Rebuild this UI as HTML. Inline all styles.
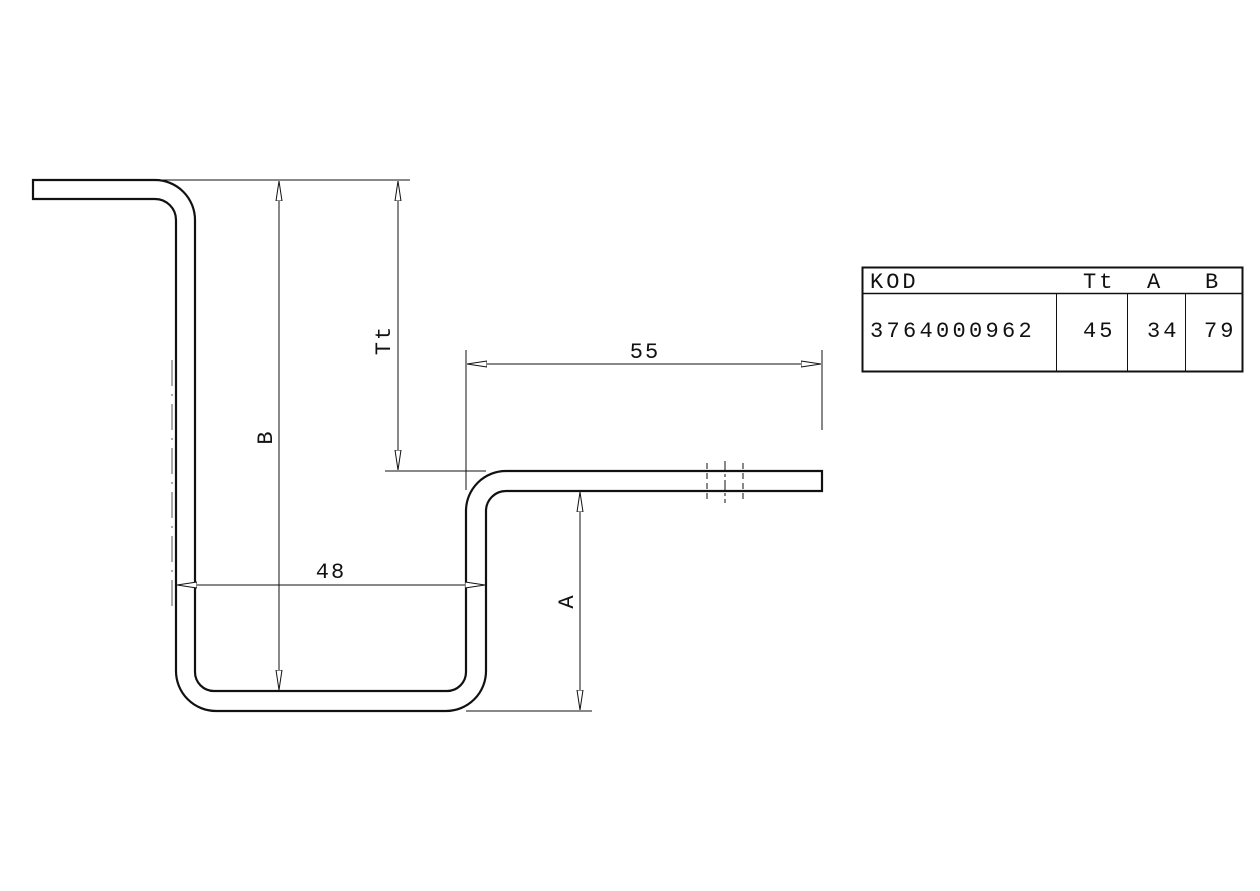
<!DOCTYPE html>
<html><head><meta charset="utf-8"><style>
html,body{margin:0;padding:0;background:#fff;}
svg{display:block}
text{font-family:"Liberation Mono",monospace;fill:#111}
</style></head><body>
<svg width="1260" height="891" viewBox="0 0 1260 891">
<defs>
<marker id="a" viewBox="0 0 20 8" refX="20" refY="4" markerWidth="20" markerHeight="8" markerUnits="userSpaceOnUse" orient="auto">
<path d="M0,1 L20,4 L0,7 Z" fill="#fff" stroke="#111" stroke-width="1"/>
</marker>
</defs>
<g fill="none" stroke="#111" stroke-width="2.2">
<path d="M33,180 L155,180 A40,40 0 0 1 195,220 L195,672 A19,19 0 0 0 214,691 L447,691 A19,19 0 0 0 466,672 L466,511 A40,40 0 0 1 506,471 L822,471 L822,491 L506,491 A20,20 0 0 0 486,511 L486,671 A40,40 0 0 1 446,711 L216,711 A40,40 0 0 1 176,671 L176,220 A21,21 0 0 0 155,199 L33,199 Z"/>
</g>
<g stroke="#111" stroke-width="1" fill="none">
<path d="M707,463 V499 M743,463 V499" stroke-dasharray="6,4"/>
<path d="M725,461 V503" stroke-dasharray="10,3,3,3"/>
<path d="M172,360 V610" stroke-dasharray="26,8,2,8" stroke="#555"/>
<path d="M155,180 H410"/>
<path d="M385,471 H486"/>
<path d="M466,711 H592"/>
<path d="M466,350 V490"/>
<path d="M822,350 V430"/>
<line x1="279" y1="437" x2="279" y2="181" marker-end="url(#a)"/>
<line x1="279" y1="437" x2="279" y2="690" marker-end="url(#a)"/>
<line x1="398" y1="330" x2="398" y2="181" marker-end="url(#a)"/>
<line x1="398" y1="330" x2="398" y2="470" marker-end="url(#a)"/>
<line x1="580" y1="600" x2="580" y2="492" marker-end="url(#a)"/>
<line x1="580" y1="600" x2="580" y2="710" marker-end="url(#a)"/>
<line x1="640" y1="364" x2="467" y2="364" marker-end="url(#a)"/>
<line x1="640" y1="364" x2="821" y2="364" marker-end="url(#a)"/>
<line x1="330" y1="585" x2="177" y2="585" marker-end="url(#a)"/>
<line x1="330" y1="585" x2="485" y2="585" marker-end="url(#a)"/>
</g>
<g font-size="22" letter-spacing="2">
<text x="645" y="358" text-anchor="middle">55</text>
<text x="331" y="578" text-anchor="middle">48</text>
<text transform="translate(272,437) rotate(-90)" text-anchor="middle">B</text>
<text transform="translate(390,340) rotate(-90)" text-anchor="middle">Tt</text>
<text transform="translate(573,601) rotate(-90)" text-anchor="middle">A</text>
</g>
<g stroke="#111" fill="none">
<rect x="862.5" y="267.5" width="380" height="104" stroke-width="2"/>
<path d="M862,293.5 H1242" stroke-width="1.5"/>
<path d="M1056.5,293 V372 M1127.5,293 V372 M1185.5,293 V372" stroke-width="1"/>
</g>
<g font-size="22" letter-spacing="3">
<text x="870" y="288">KOD</text>
<text x="1083" y="288">Tt</text>
<text x="1147" y="288">A</text>
<text x="1205" y="288">B</text>
<text x="870" y="337" letter-spacing="3.3">3764000962</text>
<text x="1083" y="337">45</text>
<text x="1147" y="337">34</text>
<text x="1204" y="337">79</text>
</g>
</svg>
</body></html>
